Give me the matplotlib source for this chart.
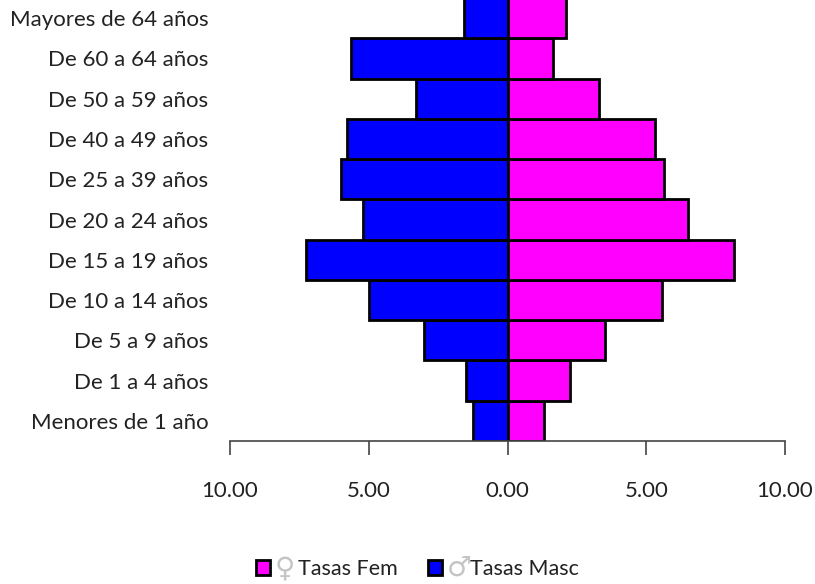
#!/usr/bin/env python3
import matplotlib
matplotlib.use('Agg')
from matplotlib import pyplot as plt

grupos = ['Menores de 1 año', 'De 1 a 4 años', 'De 5 a 9 años', 'De 10 a 14 años',
          'De 15 a 19 años', 'De 20 a 24 años', 'De 25 a 39 años', 'De 40 a 49 años',
          'De 50 a 59 años', 'De 60 a 64 años', 'Mayores de 64 años']
tasas_masc = [1.25, 1.5, 3.0, 5.0, 7.25, 5.2, 6.0, 5.77, 3.28, 5.65, 1.58]
tasas_fem = [1.33, 2.25, 3.5, 5.55, 8.18, 6.5, 5.65, 5.3, 3.28, 1.65, 2.1]
xticks = [-10, -5, 0, 5, 10]
xlabels = ['10.00', '5.00', '0.00', '5.00', '10.00']

plt.rcParams['font.family'] = ['Lato', 'DejaVu Sans']
W, H = 815, 584
fig = plt.figure(figsize=(W / 100, H / 100), dpi=100)

# the plot area runs a little past the top of the picture, as in the original
left, right, top, bottom = 230, 785, -2, 441
ax = fig.add_axes([left / W, 1 - bottom / H, (right - left) / W, (bottom - top) / H])
ax.patch.set_alpha(0)

y = range(len(grupos))
ax.barh(y, [-v for v in tasas_masc], height=1.0, color='#0000ff', edgecolor='black', linewidth=2)
ax.barh(y, tasas_fem, height=1.0, color='#ff00ff', edgecolor='black', linewidth=2)

ax.set_xlim(-10, 10)
ax.set_ylim(-0.5, len(grupos) - 0.5)
ax.set_yticks(list(y))
ax.set_yticklabels(grupos, fontsize=16, color='#222222')
ax.set_xticks(xticks)
ax.set_xticklabels(xlabels, fontsize=16, color='#222222')
ax.tick_params(axis='y', length=0, pad=15.5)
ax.tick_params(axis='x', length=10, width=1.2, color='#444444', direction='out', pad=19)
for s in ['top', 'left', 'right']:
    ax.spines[s].set_visible(False)
ax.spines['bottom'].set_color('#444444')
ax.spines['bottom'].set_linewidth(1.2)


def legend_item(x, color, symbol, label):
    fig.patches.append(plt.Rectangle((x / W, 1 - 575 / H), 14 / W, 15 / H, transform=fig.transFigure,
                                     facecolor=color, edgecolor='black', linewidth=2))
    fig.text((x + 19) / W, 1 - 568 / H, symbol, fontsize=20, color='#c4c4c4', va='center',
             family='DejaVu Sans')
    fig.text((x + 42) / W, 1 - 569 / H, label, fontsize=15.5, color='#222222', va='center')


legend_item(256, '#ff00ff', '\u2640', 'Tasas Fem')
legend_item(428, '#0000ff', '\u2642', 'Tasas Masc')

plt.savefig('out.png', dpi=100)
